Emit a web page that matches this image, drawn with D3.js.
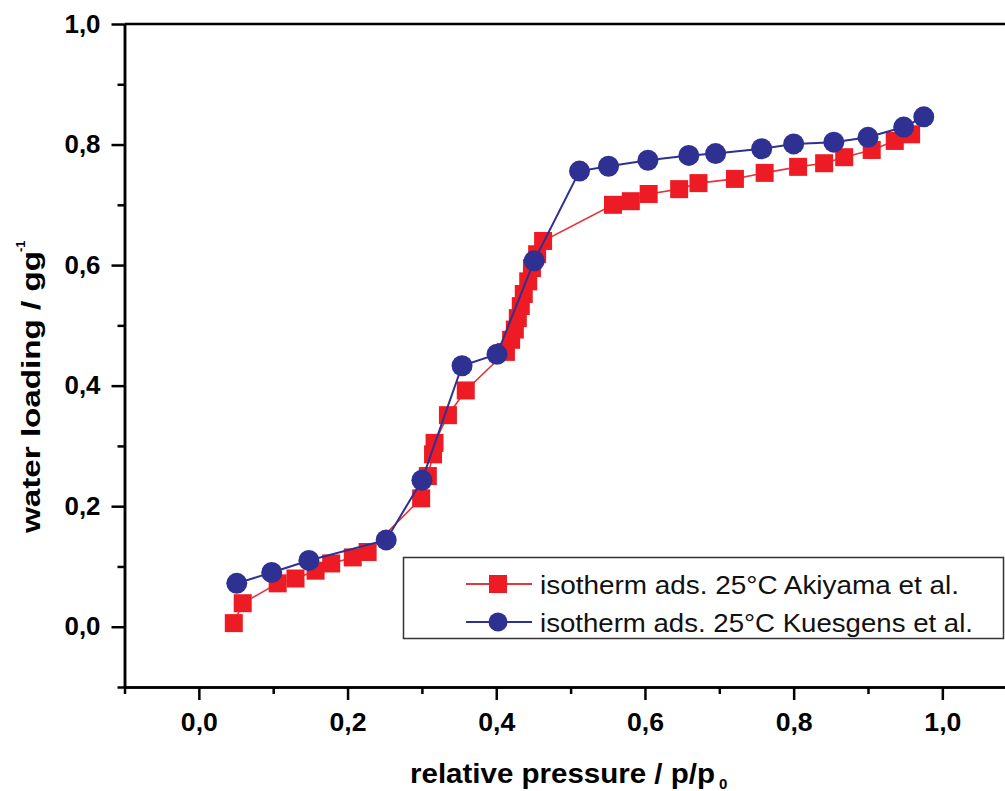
<!DOCTYPE html>
<html>
<head>
<meta charset="utf-8">
<script src="https://cdn.jsdelivr.net/npm/d3@7"></script>
<style>
  html, body { margin: 0; padding: 0; background: #fff; overflow: hidden; }
  text { font-family: Arial, "Liberation Sans", Helvetica, sans-serif; }
</style>
</head>
<body>
<svg id="chart" width="1005" height="791"></svg>
<script>
// ---- data ----
const akiyamaP = [0.047,0.059,0.106,0.130,0.157,0.178,0.207,0.227,
  0.299,0.308,0.315,0.317,0.335,0.359,0.413,0.420,0.425,0.429,0.433,0.437,0.443,0.448,0.455,0.463,
  0.557,0.581,0.605,0.646,0.672,0.721,0.761,0.806,0.841,0.868,0.905,0.936,0.958];
const akiyamaW = [0.006,0.039,0.072,0.080,0.093,0.105,0.115,0.124,
  0.213,0.250,0.286,0.305,0.351,0.392,0.456,0.476,0.493,0.512,0.532,0.552,0.573,0.595,0.618,0.640,
  0.700,0.706,0.718,0.726,0.736,0.743,0.753,0.763,0.769,0.779,0.791,0.806,0.817];
const kuesgensP = [0.051,0.098,0.148,0.252,0.300,0.354,0.401,0.451,0.512,0.551,0.604,0.659,0.695,0.757,0.800,0.854,0.900,0.948,0.975];
const kuesgensW = [0.072,0.090,0.110,0.144,0.243,0.433,0.452,0.607,0.756,0.764,0.774,0.782,0.785,0.793,0.801,0.804,0.812,0.829,0.846];
const xMajorTicks = [0.0,0.2,0.4,0.6,0.8,1.0];
const xMinorTicks = [-0.1,0.1,0.3,0.5,0.7,0.9];
const yMajorTicks = [0.0,0.2,0.4,0.6,0.8,1.0];
const yMinorTicks = [-0.1,0.1,0.3,0.5,0.7,0.9];
const seriesNames = ["isotherm ads. 25°C Akiyama et al.", "isotherm ads. 25°C Kuesgens et al."];
const xTitle = "relative pressure / p/p";
const yTitle = "water loading / gg";

const fmt = d => d3.format(".1f")(d).replace(".", ",");

const svg = d3.select("#chart");
const x = d3.scaleLinear().domain([-0.1, 1.1]).range([124.5, 1016.7]);
const y = d3.scaleLinear().domain([-0.1, 1.0]).range([687, 24]);

const RED = "#ed1c24", BLUE = "#2e3192";

// frame (top border, right border)
svg.append("line").attr("x1", x(-0.1)).attr("x2", x(1.1)).attr("y1", y(1.0)).attr("y2", y(1.0))
  .attr("stroke", "#000").attr("stroke-width", 2.5);
svg.append("line").attr("x1", x(1.1)).attr("x2", x(1.1)).attr("y1", y(1.0)).attr("y2", y(-0.1))
  .attr("stroke", "#000").attr("stroke-width", 2.5);

// axes
function styleAxis(g) {
  g.selectAll("path").attr("stroke", "#000").attr("stroke-width", 2.5);
  g.selectAll("line").attr("stroke", "#000").attr("stroke-width", 2.5);
}
const gxMinor = svg.append("g").attr("transform", `translate(0,${y(-0.1)})`)
  .call(d3.axisBottom(x).tickValues(xMinorTicks).tickSize(7).tickSizeOuter(0).tickFormat(""));
styleAxis(gxMinor);
const gx = svg.append("g").attr("transform", `translate(0,${y(-0.1)})`)
  .call(d3.axisBottom(x).tickValues(xMajorTicks).tickSize(13).tickSizeOuter(0).tickPadding(13).tickFormat(fmt));
styleAxis(gx);
gx.selectAll("text").attr("font-size", 25).attr("font-weight", "bold").attr("fill", "#000")
  .attr("textLength", 37).attr("lengthAdjust", "spacingAndGlyphs");

const gyMinor = svg.append("g").attr("transform", `translate(${x(-0.1)},0)`)
  .call(d3.axisLeft(y).tickValues(yMinorTicks).tickSize(7).tickSizeOuter(0).tickFormat(""));
styleAxis(gyMinor);
const gy = svg.append("g").attr("transform", `translate(${x(-0.1)},0)`)
  .call(d3.axisLeft(y).tickValues(yMajorTicks).tickSize(13).tickSizeOuter(0).tickPadding(11).tickFormat(fmt));
styleAxis(gy);
gy.selectAll("text").attr("font-size", 25).attr("font-weight", "bold").attr("fill", "#000")
  .attr("textLength", 36).attr("lengthAdjust", "spacingAndGlyphs");

// axis titles
svg.append("text").attr("x", 410).attr("y", 783).attr("font-size", 27).attr("font-weight", "bold")
  .attr("textLength", 305).attr("lengthAdjust", "spacingAndGlyphs").text(xTitle);
svg.append("text").attr("x", 719).attr("y", 789).attr("font-size", 15).attr("font-weight", "bold").text("0");

svg.append("text").attr("transform", "translate(40,533) rotate(-90)").attr("font-size", 26).attr("font-weight", "bold")
  .attr("textLength", 282).attr("lengthAdjust", "spacingAndGlyphs").text(yTitle);
svg.append("text").attr("transform", "translate(25,252) rotate(-90)").attr("font-size", 13).attr("font-weight", "bold").text("-1");

// data
const aData = akiyamaP.map((p, i) => ({p, w: akiyamaW[i]}));
const kData = kuesgensP.map((p, i) => ({p, w: kuesgensW[i]}));
const line = d3.line().x(d => x(d.p)).y(d => y(d.w));

svg.append("path").datum(aData).attr("d", line).attr("fill", "none").attr("stroke", "#e3363a").attr("stroke-width", 1.6);
const SQ = 18;
svg.append("g").selectAll("rect").data(aData).join("rect")
  .attr("x", d => x(d.p) - SQ / 2).attr("y", d => y(d.w) - SQ / 2)
  .attr("width", SQ).attr("height", SQ).attr("fill", RED);

svg.append("path").datum(kData).attr("d", line).attr("fill", "none").attr("stroke", BLUE).attr("stroke-width", 2);
svg.append("g").selectAll("circle").data(kData).join("circle")
  .attr("cx", d => x(d.p)).attr("cy", d => y(d.w)).attr("r", 10.5).attr("fill", BLUE);

// legend
const lg = svg.append("g");
lg.append("rect").attr("x", 403.5).attr("y", 557.5).attr("width", 600).attr("height", 81)
  .attr("fill", "#fff").attr("stroke", "#333").attr("stroke-width", 1.5);
const rows = [
  {name: seriesNames[0], color: RED, lineColor: "#e3363a", shape: "square", cy: 584, len: 419},
  {name: seriesNames[1], color: BLUE, lineColor: BLUE, shape: "circle", cy: 622, len: 433}
];
rows.forEach(r => {
  lg.append("line").attr("x1", 466).attr("x2", 532).attr("y1", r.cy).attr("y2", r.cy)
    .attr("stroke", r.lineColor).attr("stroke-width", 1.8);
  if (r.shape === "square") {
    lg.append("rect").attr("x", 498 - 9).attr("y", r.cy - 9).attr("width", 18).attr("height", 18).attr("fill", r.color);
  } else {
    lg.append("circle").attr("cx", 498).attr("cy", r.cy).attr("r", 9.5).attr("fill", r.color);
  }
  lg.append("text").attr("x", 540).attr("y", r.cy + 10).attr("font-size", 26).attr("fill", "#111")
    .attr("textLength", r.len).attr("lengthAdjust", "spacingAndGlyphs").text(r.name);
});
</script>
</body>
</html>
